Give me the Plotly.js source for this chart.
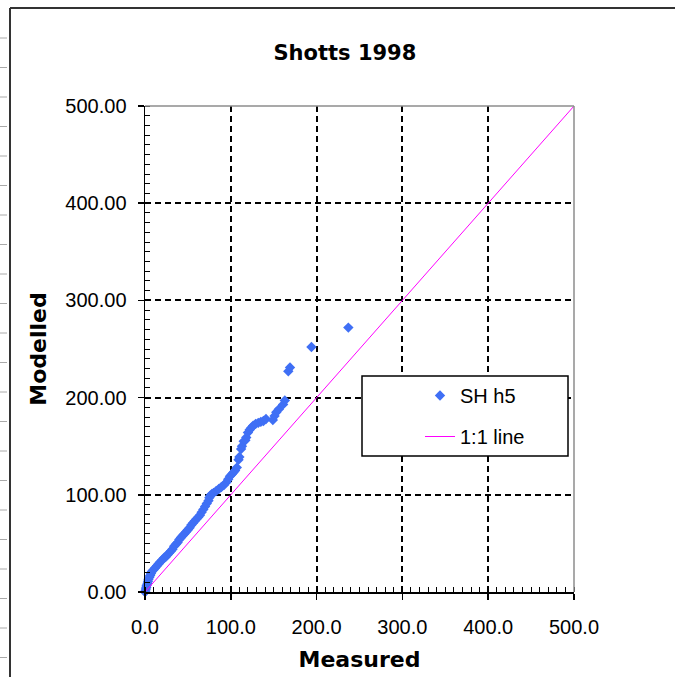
<!DOCTYPE html>
<html>
<head>
<meta charset="utf-8">
<script src="https://cdn.plot.ly/plotly-3.0.1.min.js"></script>
<style>html,body{margin:0;padding:0;background:#fff;}#chart{width:675px;height:677px;}</style>
</head>
<body>
<div id="chart"></div>
<script>
// Data (Measured vs Modelled, SH h5)
const measured = [0, 0.5, 1, 1.5, 2, 3, 3.5, 4, 5, 6, 7, 8, 10, 12, 14, 16, 18, 20, 22, 24, 26, 28, 30, 32, 34, 36, 38, 40, 42, 44, 46, 48, 50, 52, 54, 56, 58, 60, 62, 64, 66, 68, 70, 72, 74, 75, 76, 78, 80, 83, 86, 89, 92, 95, 97, 99, 101, 103, 105, 107, 109, 110, 112, 113, 115, 117, 118, 120, 122, 124, 126, 129, 132, 135, 138, 141, 149, 151, 153, 156, 161, 163, 167, 169, 194, 237];
const modelled = [0, 1, 3, 5, 7, 9, 11, 13, 15, 17, 19, 21, 23, 25, 27, 29, 31, 33, 35, 36, 38, 40, 42, 44, 47, 49, 51, 54, 56, 58, 60, 62, 64, 66, 69, 71, 73, 75, 77, 79, 82, 85, 88, 91, 94, 97, 99, 101, 102, 104, 106, 108, 110, 113, 116, 119, 121, 123, 125, 128, 136, 139, 147, 150, 155, 156, 159, 164, 167, 169, 171, 173, 174, 175, 176, 178, 177, 181, 185, 188, 193, 197, 227, 231, 252, 272];
const lineX = [0, 500];
const lineY = [0, 500];
const seriesNames = ['SH h5', '1:1 line'];
const axisTicks = [0, 100, 200, 300, 400, 500];

const FONT = 'Liberation Sans, Arial, sans-serif';
const BOLD = 'DejaVu Sans, Verdana, sans-serif';

const traces = [
  {
    x: measured, y: modelled, type: 'scatter', mode: 'markers', name: seriesNames[0],
    legendgroup: 'a', cliponaxis: false,
    marker: {symbol: 'diamond', size: 8, color: '#3f6ff5', line: {width: 0}}
  },
  {
    x: lineX, y: lineY, type: 'scatter', mode: 'lines', name: seriesNames[1],
    legendgroup: 'b', cliponaxis: false,
    line: {color: '#ff00ff', width: 1}
  }
];

// frame decoration (chart-area border like the spreadsheet)
const L = 145, R = 574, T = 106, B = 592;
const px = v => (v - L) / (R - L);
const py = v => (B - v) / (B - T);
const shapes = [
  {type: 'line', xref: 'paper', yref: 'paper', x0: px(10), x1: px(675), y0: py(8), y1: py(8), line: {color: '#333', width: 2}},
  {type: 'line', xref: 'paper', yref: 'paper', x0: px(10), x1: px(10), y0: py(8), y1: py(677), line: {color: '#333', width: 2}},
  {type: 'line', xref: 'paper', yref: 'paper', x0: 0, x1: 1, y0: 1, y1: 1, line: {color: '#8c8c8c', width: 1.5}, layer: 'above'},
  {type: 'line', xref: 'paper', yref: 'paper', x0: 1, x1: 1, y0: 0, y1: 1, line: {color: '#8c8c8c', width: 1.5}, layer: 'above'},
  // legend box
  {type: 'rect', xref: 'paper', yref: 'paper', x0: px(362), x1: px(568), y0: py(456), y1: py(376),
   fillcolor: '#fff', line: {color: '#000', width: 1.5}, layer: 'above'}
];
for (let yy = 38; yy < 677; yy += 29.5) {
  shapes.push({type: 'line', xref: 'paper', yref: 'paper', x0: px(0), x1: px(7), y0: py(yy), y1: py(yy), line: {color: '#aaa', width: 1}});
}

const common = {
  range: [0, 500], autorange: false, tickvals: axisTicks,
  showline: true, linecolor: '#000', linewidth: 1.5,
  ticks: 'outside', ticklen: 6, tickcolor: '#000', tickwidth: 1.5,
  showgrid: true, gridcolor: '#000', gridwidth: 2, griddash: '6px,4px',
  zeroline: false,
  tickfont: {family: FONT, size: 20, color: '#000'},
  minor: {dtick: 10, ticks: 'inside', ticklen: 5, tickcolor: '#000', tickwidth: 1, showgrid: false}
};
const crossTicks = {
  range: [0, 500], autorange: false, tickvals: axisTicks,
  ticks: 'inside', ticklen: 6, tickcolor: '#000', tickwidth: 1.5,
  showticklabels: false, showgrid: false, zeroline: false, showline: false
};

const layout = {
  width: 675, height: 677,
  margin: {l: L, r: 675 - R, t: T, b: 677 - B},
  paper_bgcolor: '#fff', plot_bgcolor: '#fff',
  title: {text: 'Shotts 1998', x: 0.511, xref: 'container', xanchor: 'center', y: 1 - 53 / 677, yref: 'container', yanchor: 'middle',
          font: {family: BOLD, size: 21, color: '#000', weight: 'bold'}},
  xaxis: Object.assign({}, common, {
    tickformat: '.1f', ticklabelstandoff: 10,
    title: {text: 'Measured', standoff: 15, font: {family: BOLD, size: 22, color: '#000', weight: 'bold'}}
  }),
  yaxis: Object.assign({}, common, {
    tickformat: '.2f', ticklabelstandoff: 7,
    title: {text: 'Modelled', standoff: 12, font: {family: BOLD, size: 22, color: '#000', weight: 'bold'}}
  }),
  xaxis2: Object.assign({}, crossTicks, {overlaying: 'x', anchor: 'y', side: 'bottom'}),
  yaxis2: Object.assign({}, crossTicks, {overlaying: 'y', anchor: 'x', side: 'left'}),
  showlegend: true,
  legend: {
    x: px(362), y: py(376), xanchor: 'left', yanchor: 'top',
    bgcolor: 'rgba(0,0,0,0)', borderwidth: 0,
    font: {family: FONT, size: 20, color: '#000'},
    traceorder: 'grouped', tracegroupgap: 12, indentation: 58
  },
  shapes: shapes
};

Plotly.newPlot('chart', traces, layout, {displayModeBar: false, staticPlot: true});
</script>
</body>
</html>
